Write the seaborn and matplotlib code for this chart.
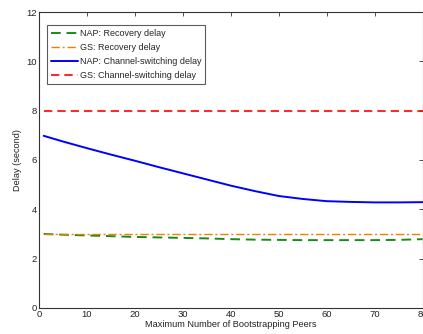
import matplotlib
matplotlib.use("Agg")
import matplotlib.pyplot as plt
import seaborn as sns
import pandas as pd

peers = [1, 5, 10, 15, 20, 25, 30, 35, 40, 45, 50, 55, 60, 65, 70, 75, 80]
nap_recovery = [3.00, 2.97, 2.94, 2.91, 2.88, 2.86, 2.84, 2.82, 2.79, 2.77, 2.76, 2.75, 2.75, 2.75, 2.75, 2.76, 2.79]
gs_recovery = [3.0] * len(peers)
nap_switching = [6.98, 6.75, 6.48, 6.22, 5.97, 5.71, 5.46, 5.21, 4.96, 4.74, 4.54, 4.42, 4.33, 4.30, 4.28, 4.28, 4.29]
gs_switching = [8.0] * len(peers)

series = [
    ("NAP: Recovery delay", nap_recovery, "#1a8a1a", (0, (5, 3)), 1.4),
    ("GS: Recovery delay", gs_recovery, "#f07f00", (0, (6, 2, 1.5, 2)), 1.0),
    ("NAP: Channel-switching delay", nap_switching, "#0000ff", "-", 1.4),
    ("GS: Channel-switching delay", gs_switching, "#ff0000", (0, (5, 3)), 1.2),
]

sns.set_style("white")
plt.rcParams["font.family"] = ["Liberation Sans", "DejaVu Sans"]

fig = plt.figure(figsize=(4.23, 3.34), dpi=100)
ax = fig.add_axes([0.092, 0.078, 0.907, 0.886])

for name, vals, color, ls, lw in series:
    df = pd.DataFrame({"peers": peers, "delay": vals})
    sns.lineplot(data=df, x="peers", y="delay", ax=ax, color=color,
                 linestyle=ls, linewidth=lw, label=name)

ax.set_xlim(0, 80)
ax.set_ylim(0, 12)
ax.set_xticks(range(0, 81, 10))
ax.set_yticks(range(0, 13, 2))
ax.tick_params(direction="in", length=3, width=0.6, labelsize=6.8, pad=1.5,
               top=True, right=True, colors="#333333", labelcolor="#222222")
for s in ax.spines.values():
    s.set_color("#333333")
    s.set_linewidth(0.8)
ax.set_xlabel("Maximum Number of Bootstrapping Peers", fontsize=6.6, color="#222222", labelpad=1)
ax.set_ylabel("Delay (second)", fontsize=6.6, color="#222222", labelpad=3)

leg = ax.legend(loc="upper left", bbox_to_anchor=(0.021, 0.957), borderaxespad=0,
                fontsize=6.5, frameon=True, fancybox=False, handlelength=3.0,
                handletextpad=0.2, borderpad=0.45, labelspacing=0.55)
leg.get_frame().set_edgecolor("#333333")
leg.get_frame().set_linewidth(0.8)

fig.savefig("out.png", dpi=100)
